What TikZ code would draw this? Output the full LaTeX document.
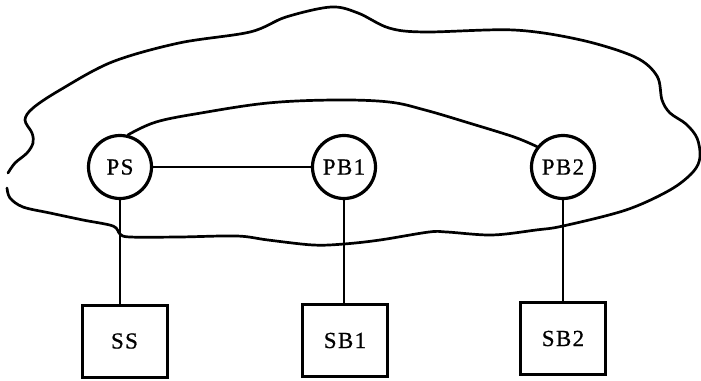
\documentclass[tikz,border=0pt]{standalone}
\usepackage{fontspec}
\newfontfamily\lblfont[LetterSpace=6,FakeBold=0.7]{Liberation Serif}
\begin{document}
\begin{tikzpicture}[x=1pt,y=-1pt,
  proc/.style={circle,draw,line width=3.2pt,minimum size=63pt,inner sep=0pt,font=\lblfont\fontsize{23}{27}\selectfont},
  sbox/.style={rectangle,draw,line width=3pt,minimum width=85pt,minimum height=72pt,inner sep=0pt,font=\lblfont\fontsize{23}{27}\selectfont},
  link/.style={line width=2.3pt},
  cloudline/.style={line width=2.7pt,line cap=round,line join=round}]
\useasboundingbox (0,0) rectangle (701,380);
\node[proc] (ps) at (120,167) {PS};
\node[proc] (pb1) at (344,167) {PB1};
\node[proc] (pb2) at (563,167) {PB2};
\node[sbox] (ss) at (124.5,341) {SS};
\node[sbox] (sb1) at (345,340.5) {SB1};
\node[sbox] (sb2) at (563,338.5) {SB2};
\draw[link] (ps.east) -- (pb1.west);
\draw[link] (ps.south) -- (ps.south |- ss.north);
\draw[link] (pb1.south) -- (pb1.south |- sb1.north);
\draw[link] (pb2.south) -- (pb2.south |- sb2.north);
\draw[cloudline] plot[smooth,tension=0.6] coordinates {(ps.76) (156,122) (201,113) (268,103) (335,100) (389,102) (425,110) (469,123) (514,137) (pb2.142)};
\draw[cloudline] plot[smooth,tension=0.55] coordinates {
 (8,173) (15,163) (27,153) (33,143) (32,133) (25,120) (33,108) (60,90) (112,62)
 (179,43) (250,32) (286,17) (331,7) (358,13) (389,28) (425,32) (514,30) (581,40)
 (635,57) (657,76) (662,100) (670,113) (686,124) (697,138) (700,157) (693,172)
 (670,190) (626,210) (563,226) (536,230) (492,235) (447,232) (429,232) (380,240)
 (344,244) (313,245) (268,240) (237,236) (179,237) (130,237) (120,234) (113,226)
 (83,220) (50,213) (23,207) (10,198) (7,188)};
\end{tikzpicture}
\end{document}
